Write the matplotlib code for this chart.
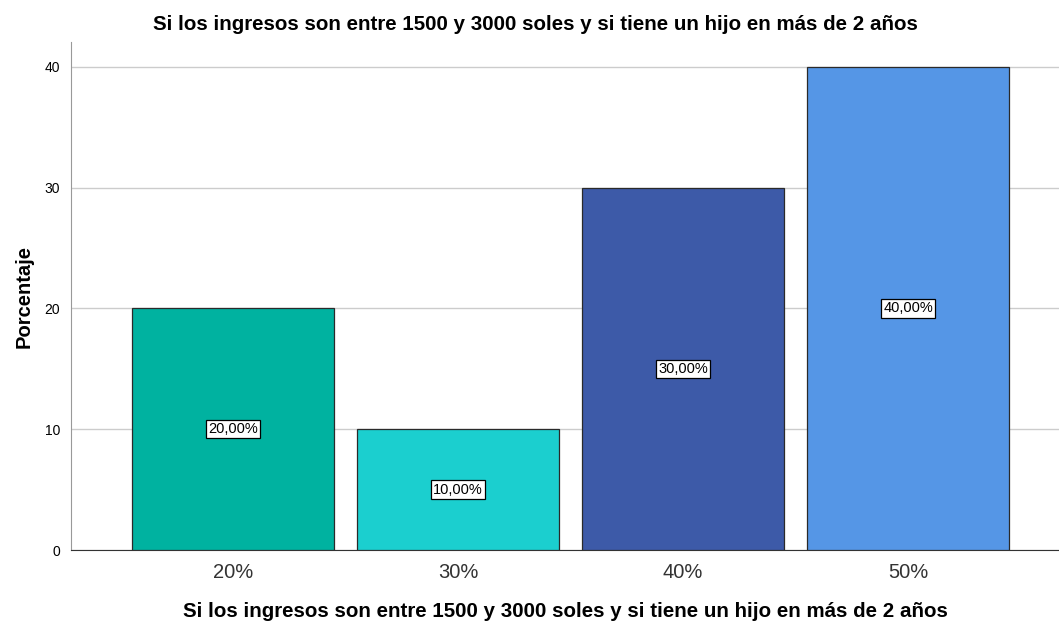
import matplotlib.pyplot as plt

categories = ["20%", "30%", "40%", "50%"]
values = [20, 10, 30, 40]
labels = ["20,00%", "10,00%", "30,00%", "40,00%"]
colors = ["#00B2A0", "#1BCFCF", "#3D5AA8", "#5596E6"]

plt.rcParams["font.family"] = ["Liberation Sans", "DejaVu Sans"]

fig = plt.figure(figsize=(10.59, 6.23), dpi=100)
ax = fig.add_axes([71 / 1059, 1 - 550 / 623, 1 - 71 / 1059, (550 - 42) / 623])

x = list(range(len(categories)))
ax.bar(x, values, width=0.9, color=colors, edgecolor="#2a2a2a", linewidth=0.9, zorder=3)

for xi, v, lab in zip(x, values, labels):
    ax.text(xi, v / 2, lab, ha="center", va="center", fontsize=10.5, zorder=4,
            bbox=dict(boxstyle="square,pad=0.15", facecolor="white", edgecolor="black", linewidth=0.9))

ax.set_xlim(-0.72, 3.67)
ax.set_ylim(0, 42.07)
ax.set_yticks([0, 10, 20, 30, 40])
ax.grid(axis="y", color="#CCCCCC", linewidth=1, zorder=0)

ax.set_xticks(x)
ax.set_xticklabels(categories, fontsize=14.5, color="#333333")
ax.tick_params(axis="x", length=0, pad=9)
ax.tick_params(axis="y", length=0, labelsize=10, pad=8)

for s in ["top", "right"]:
    ax.spines[s].set_visible(False)
ax.spines["left"].set_color("#999999")
ax.spines["bottom"].set_color("#333333")

ax.set_ylabel("Porcentaje", fontsize=14.5, fontweight="bold", labelpad=8)
ax.set_xlabel("Si los ingresos son entre 1500 y 3000 soles y si tiene un hijo en más de 2 años",
              fontsize=14.8, fontweight="bold", labelpad=15)
fig.text(535.5 / 1059, 1 - 25 / 623,
         "Si los ingresos son entre 1500 y 3000 soles y si tiene un hijo en más de 2 años",
         ha="center", va="center", fontsize=14.8, fontweight="bold")

fig.savefig("out.png", dpi=100)
